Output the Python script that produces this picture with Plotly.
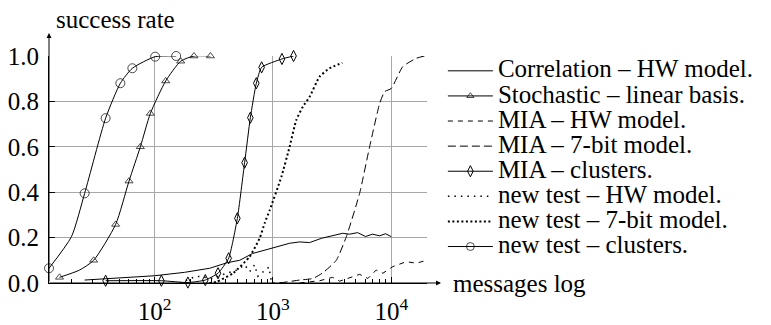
import plotly.graph_objects as go

# ---------------- data ----------------
corr_x = [25.6, 50.6, 100, 179, 292, 414, 523, 673, 937, 1383, 1680, 2040, 2575, 3880, 4450, 5190, 6060, 6950, 7970, 8960, 10000]
corr_y = [0.013, 0.022, 0.032, 0.047, 0.065, 0.09, 0.10, 0.13, 0.152, 0.175, 0.181, 0.178, 0.197, 0.219, 0.215, 0.222, 0.205, 0.215, 0.208, 0.217, 0.204]

stoch_x = [15.7, 23.2, 30.5, 46.8, 60.7, 75.7, 92.0, 124, 166, 215, 296]
stoch_y = [0.025, 0.057, 0.10, 0.258, 0.449, 0.60, 0.747, 0.89, 0.977, 1.0, 1.0]
stoch_mk = [1, 0, 1, 1, 1, 1, 1, 1, 1, 1, 1]

miahw_x = [1680, 2480, 3190, 3660, 4170, 4710, 5400, 6340, 7460, 8490, 10300, 13400, 16300, 19800]
miahw_y = [0.0, 0.01, 0.025, 0.008, 0.018, 0.028, 0.038, 0.02, 0.057, 0.043, 0.072, 0.094, 0.087, 0.10]

mia7_x = [1137, 1680, 2180, 2640, 3430, 4170, 5400, 6560, 7970, 8790, 10000, 12500, 16300, 19100]
mia7_y = [0.0, 0.013, 0.02, 0.045, 0.10, 0.204, 0.395, 0.60, 0.79, 0.843, 0.857, 0.953, 0.99, 1.0]

miacl_x = [38.5, 114, 191, 268, 343, 422, 500, 576, 644, 723, 802, 1191, 1493]
miacl_y = [0.01, 0.01, 0.002, 0.013, 0.043, 0.109, 0.285, 0.53, 0.728, 0.88, 0.95, 0.987, 1.0]

nthw_x = [163, 225, 309, 390, 496, 576, 635, 700, 746, 823, 925, 975, 1254]
nthw_y = [0.0, 0.03, 0.02, 0.04, 0.057, 0.08, 0.05, 0.08, 0.03, 0.05, 0.07, 0.0, 0.0]

nt7_x = [290, 332, 459, 635, 771, 850, 937, 1178, 1383, 1575, 1791, 2040, 2478, 3010, 3855]
nt7_y = [0.0, 0.005, 0.043, 0.116, 0.197, 0.263, 0.32, 0.468, 0.60, 0.718, 0.777, 0.82, 0.909, 0.946, 0.97]

ntcl_x = [12.8, 19.8, 25.6, 38.5, 51.3, 64.8, 101, 152]
ntcl_y = [0.065, 0.204, 0.395, 0.726, 0.88, 0.946, 0.997, 1.0]
ntcl_mk = [1, 0, 1, 1, 1, 1, 1, 1]

y_ticks = [0.0, 0.2, 0.4, 0.6, 0.8, 1.0]
y_labels = ["0.0", "0.2", "0.4", "0.6", "0.8", "1.0"]
x_ticks = [100, 1000, 10000]
x_labels = ["10<sup>2</sup>", "10<sup>3</sup>", "10<sup>4</sup>"]
x_minor = [m * 10 ** k for k in (1, 2, 3, 4) for m in range(2, 10)]

names = ["Correlation – HW model.", "Stochastic – linear basis.", "MIA – HW model.",
         "MIA – 7-bit model.", "MIA – clusters.", "new test – HW model.",
         "new test – 7-bit model.", "new test – clusters."]

# ---------------- figure ----------------
FONT = "Liberation Serif"
TS = 25
K = "black"

def nm(s):
    return '<span style="font-size:%dpx">%s</span>' % (TS, s)

fig = go.Figure()
fig.add_trace(go.Scatter(x=corr_x, y=corr_y, mode="lines", name=nm(names[0]),
                         line=dict(color=K, width=1)))
fig.add_trace(go.Scatter(x=stoch_x, y=stoch_y, mode="lines+markers", name=nm(names[1]),
                         line=dict(color=K, width=1, shape="spline", smoothing=0.6),
                         marker=dict(symbol="triangle-up-open", size=[7 * m for m in stoch_mk],
                                     color=K, line=dict(width=1))))
fig.add_trace(go.Scatter(x=miahw_x, y=miahw_y, mode="lines", name=nm(names[2]),
                         line=dict(color=K, width=1, dash="5px,5px")))
fig.add_trace(go.Scatter(x=mia7_x, y=mia7_y, mode="lines", name=nm(names[3]),
                         line=dict(color=K, width=1, dash="8px,4px", shape="spline", smoothing=0.5)))
fig.add_trace(go.Scatter(x=miacl_x, y=miacl_y, mode="lines+markers", name=nm(names[4]),
                         line=dict(color=K, width=1, shape="spline", smoothing=0.5),
                         marker=dict(symbol="diamond-tall-open", size=8, color=K, line=dict(width=1))))
fig.add_trace(go.Scatter(x=nthw_x, y=nthw_y, mode="lines", name=nm(names[5]),
                         line=dict(color=K, width=1.5, dash="1.5px,5px")))
fig.add_trace(go.Scatter(x=nt7_x, y=nt7_y, mode="lines", name=nm(names[6]),
                         line=dict(color=K, width=2, dash="2px,2.5px", shape="spline", smoothing=0.5)))
fig.add_trace(go.Scatter(x=ntcl_x, y=ntcl_y, mode="lines+markers", name=nm(names[7]),
                         line=dict(color=K, width=1, shape="spline", smoothing=0.6),
                         marker=dict(symbol="circle-open", size=[9 * m for m in ntcl_mk],
                                     color=K, line=dict(width=1))))

fig.update_traces(cliponaxis=False)

fig.update_layout(
    width=771, height=325,
    margin=dict(l=49, r=344, t=56, b=42, autoexpand=False),
    paper_bgcolor="white", plot_bgcolor="white",
    font=dict(family=FONT, size=TS, color=K),
    showlegend=True,
    legend=dict(x=1.042, y=1.012, xanchor="left", yanchor="top",
                font=dict(family=FONT, size=17, color=K),
                itemwidth=45, bgcolor="rgba(0,0,0,0)", tracegroupgap=0,
                itemclick=False, maxheight=600),
    xaxis=dict(type="log", range=[1.107, 4.302], automargin=False,
               tickvals=x_ticks, ticktext=x_labels,
               showgrid=True, gridcolor="#a8a8a8", gridwidth=1,
               showline=True, linecolor=K, linewidth=1,
               ticks="inside", ticklen=6, tickcolor=K,
               minor=dict(tickmode="array", tickvals=x_minor, ticks="inside", ticklen=4,
                          tickcolor=K, showgrid=False),
               tickfont=dict(family=FONT, size=TS, color=K),
               ticklabelstandoff=6, zeroline=False, fixedrange=True),
    yaxis=dict(range=[0, 1.0], tickvals=y_ticks, ticktext=y_labels, automargin=False,
               showgrid=True, gridcolor="#a8a8a8", gridwidth=1,
               showline=True, linecolor=K, linewidth=1,
               ticks="inside", ticklen=6, tickcolor=K,
               tickfont=dict(family=FONT, size=TS, color=K),
               ticklabelstandoff=4, zeroline=False, fixedrange=True),
    annotations=[
        dict(xref="paper", yref="paper", x=0, y=1.101, ax=0, ay=250,
             axref="pixel", ayref="pixel", showarrow=True, arrowhead=2,
             arrowsize=1, arrowwidth=1, arrowcolor=K, text=""),
        dict(xref="paper", yref="paper", x=1.037, y=0, ax=-393, ay=0,
             axref="pixel", ayref="pixel", showarrow=True, arrowhead=2,
             arrowsize=1, arrowwidth=1, arrowcolor=K, text=""),
        dict(xref="paper", yref="paper", x=0.012, y=1.16, xanchor="left", yanchor="middle",
             text="success rate", showarrow=False, font=dict(family=FONT, size=TS, color=K)),
        dict(xref="paper", yref="paper", x=1.064, y=0, xanchor="left", yanchor="middle",
             text="messages log", showarrow=False, font=dict(family=FONT, size=TS, color=K)),
    ],
)

fig.write_html("out.html")
